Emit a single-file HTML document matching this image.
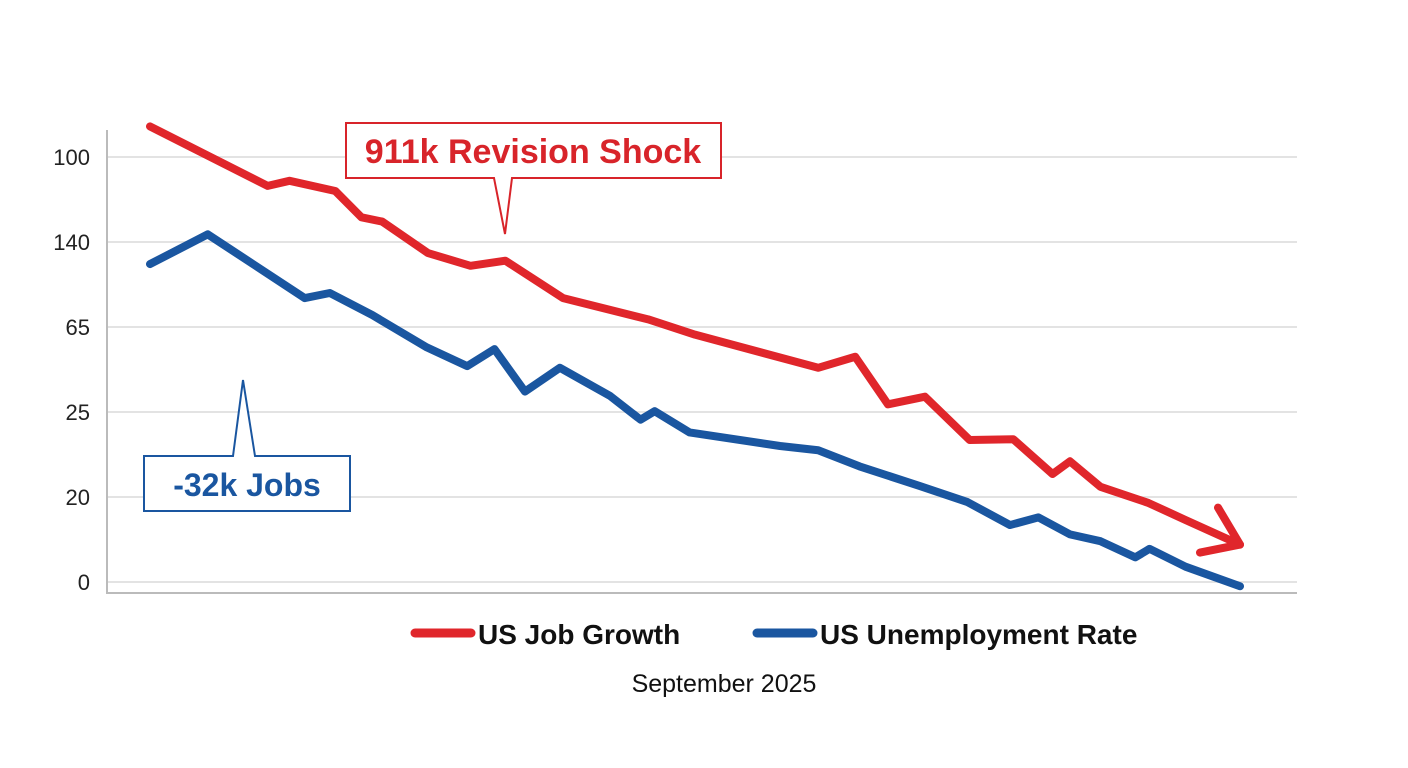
<!DOCTYPE html>
<html><head><meta charset="utf-8"><style>
html,body{margin:0;padding:0;background:#fff;width:1408px;height:768px;overflow:hidden}
svg text{font-family:"Liberation Sans",Arial,sans-serif}
</style></head><body>
<svg id="chart" width="1408" height="768"></svg>
<script>
const yTickLabels=["0","20","25","65","140","100"];
const redT=[0,10.8,12.8,17.0,19.4,21.3,25.5,29.4,32.6,37.9,45.7,50.0,61.3,64.7,67.7,71.1,75.2,79.2,82.8,84.4,87.2,91.6,95.0,100];
const redV=[5.36,4.66,4.72,4.6,4.29,4.24,3.87,3.72,3.78,3.34,3.09,2.91,2.52,2.65,2.09,2.18,1.67,1.68,1.27,1.42,1.12,0.93,0.73,0.44];
const blueT=[0,5.3,14.2,16.5,20.4,25.4,29.1,31.6,34.4,37.6,42.2,45.0,46.3,49.5,57.8,61.3,65.1,70.6,75.0,78.9,81.5,84.4,87.2,90.4,91.7,95.0,100];
const blueV=[3.74,4.09,3.34,3.4,3.14,2.76,2.54,2.74,2.24,2.52,2.19,1.91,2.01,1.76,1.6,1.55,1.36,1.13,0.94,0.67,0.76,0.56,0.48,0.29,0.39,0.18,-0.05];
const seriesNames=["US Job Growth","US Unemployment Rate"];

const NS="http://www.w3.org/2000/svg";
const svg=document.getElementById('chart');
const xS=t=>150+t*10.9;
const yS=v=>582-v*85;
function mk(tag,attrs,parent){const e=document.createElementNS(NS,tag);for(const k in attrs)e.setAttribute(k,attrs[k]);(parent||svg).appendChild(e);return e;}

yTickLabels.forEach((lab,i)=>{
  const g=mk('line',{x1:107,x2:1297,y1:yS(i),y2:yS(i),stroke:'#e3e3e3','stroke-width':2});
  
  
  const t=mk('text',{x:90,y:yS(i)+8,'text-anchor':'end','font-size':22,fill:'#222'});
  t.textContent=lab;
  
  
});
const ax=mk('path',{d:'M107 130 V593 H1297',fill:'none',stroke:'#bbb','stroke-width':2});



function line(T,V,color,name){
  const d=T.map((t,i)=>(i?'L':'M')+xS(t)+' '+yS(V[i])).join(' ');
  const p=mk('path',{d,fill:'none',stroke:color,'stroke-width':8,'stroke-linejoin':'round','stroke-linecap':'round'});
  
  
}
line(blueT,blueV,'#1a56a0','unemployment-line');
line(redT,redV,'#e0262b','job-growth-line');
const ex=xS(redT[redT.length-1]),ey=yS(redV[redV.length-1]);
const ah=mk('path',{d:`M${ex-40} ${ey+8} L${ex} ${ey} L${ex-22} ${ey-37}`,fill:'none',stroke:'#e0262b','stroke-width':8,'stroke-linecap':'round','stroke-linejoin':'round'});


</script>
<svg width="1408" height="768" style="position:absolute;left:0;top:0">
<g>
<path d="M346 123 H721 V178 H512 L505 234 L494 178 H346 Z" fill="#fff" stroke="#d8242a" stroke-width="2"/>
<text x="533" y="163" text-anchor="middle" font-size="34" font-weight="bold" fill="#d8242a">911k Revision Shock</text>
</g>
<g>
<path d="M144 456 H233 L243 380 L255 456 H350 V511 H144 Z" fill="#fff" stroke="#1a56a0" stroke-width="2"/>
<text x="247" y="496" text-anchor="middle" font-size="32" font-weight="bold" fill="#1a56a0">-32k Jobs</text>
</g>
<g>
<line x1="415" y1="633" x2="471" y2="633" stroke="#e0262b" stroke-width="9" stroke-linecap="round"/>
<text x="478" y="644" font-size="28" font-weight="bold" fill="#111">US Job Growth</text>
<line x1="757" y1="633" x2="813" y2="633" stroke="#1a56a0" stroke-width="9" stroke-linecap="round"/>
<text x="820" y="644" font-size="28" font-weight="bold" fill="#111">US Unemployment Rate</text>
</g>
<text x="724" y="692" text-anchor="middle" font-size="25" fill="#111">September 2025</text>
</svg>
</body></html>
